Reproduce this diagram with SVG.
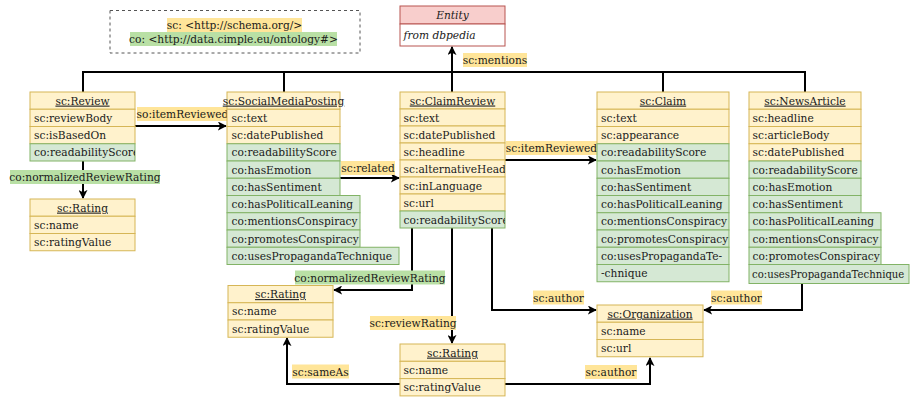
<svg xmlns="http://www.w3.org/2000/svg" width="910" height="401" viewBox="0 0 910 401">
<style>
text{font-family:"DejaVu Serif","Liberation Serif",serif;font-size:10.65px;fill:#1a1a1a}
.y{fill:#fff2cc;stroke:#d6b656;stroke-width:1}
.g{fill:#d5e8d4;stroke:#82b366;stroke-width:1}
.h{text-anchor:middle;text-decoration:underline}
.ly{fill:#ffe599}
.lg{fill:#b9e0a5}
.c path{fill:none;stroke:#000;stroke-width:2}
.i{font-style:italic}
</style>
<defs>
<marker id="a" viewBox="0 0 10 10" refX="9" refY="5" markerWidth="9" markerHeight="9" markerUnits="userSpaceOnUse" orient="auto">
<path d="M0,0 L10,5 L0,10 L2.5,5 z" fill="#000"/>
</marker>
<clipPath id="cRev"><rect x="30" y="92" width="105" height="70"/></clipPath>
<clipPath id="cCR"><rect x="400" y="92" width="105" height="137"/></clipPath>
</defs>

<g id="namespaces">
<rect x="110" y="10.5" width="250" height="42.5" fill="none" stroke="#555" stroke-dasharray="3,3"/>
<rect class="ly" x="167" y="18" width="135" height="14"/>
<text x="234.5" y="29" text-anchor="middle">sc: &lt;http://schema.org/&gt;</text>
<rect class="lg" x="130" y="32" width="207" height="14"/>
<text x="233.5" y="43" text-anchor="middle">co: &lt;http://data.cimple.eu/ontology#&gt;</text>
</g>

<g id="entity">
<rect x="400" y="6" width="105" height="18" fill="#f8cecc" stroke="#b85450"/>
<rect x="400" y="24" width="105" height="22" fill="#fff" stroke="#b85450"/>
<text class="i" x="452.5" y="19" text-anchor="middle">Entity</text>
<text class="i" x="403.5" y="39">from dbpedia</text>
</g>

<g class="c" id="connectors">
<path d="M83 92 V72 H805 V92"/>
<path d="M284 72 V92"/>
<path d="M663 72 V92"/>
<path d="M452 92 V47" marker-end="url(#a)"/>
<path d="M135 126 H226" marker-end="url(#a)"/>
<path d="M83 161 V198" marker-end="url(#a)"/>
<path d="M340 178 H399" marker-end="url(#a)"/>
<path d="M505 160 H596" marker-end="url(#a)"/>
<path d="M412 228 V290 H334" marker-end="url(#a)"/>
<path d="M452 228 V343" marker-end="url(#a)"/>
<path d="M492 228 V310 H596" marker-end="url(#a)"/>
<path d="M802 283 V310 H704" marker-end="url(#a)"/>
<path d="M400 384 H287 V338" marker-end="url(#a)"/>
<path d="M505 384 H650 V358" marker-end="url(#a)"/>
</g>

<g id="edge-labels">
<rect class="ly" x="463" y="53" width="64" height="14"/><text x="495" y="64" text-anchor="middle">sc:mentions</text>
<rect class="ly" x="137" y="107" width="91" height="14"/><text x="182.5" y="118" text-anchor="middle">so:itemReviewed</text>
<rect class="lg" x="10" y="170" width="150" height="14"/><text x="85" y="181" text-anchor="middle">co:normalizedReviewRating</text>
<rect class="ly" x="341" y="161" width="54" height="14"/><text x="368" y="172" text-anchor="middle">sc:related</text>
<rect class="ly" x="506" y="141" width="91" height="14"/><text x="551.5" y="152" text-anchor="middle">sc:itemReviewed</text>
<rect class="lg" x="295" y="270.5" width="150" height="14"/><text x="370" y="281.5" text-anchor="middle">co:normalizedReviewRating</text>
<rect class="ly" x="370" y="316" width="86" height="14"/><text x="413" y="327" text-anchor="middle">sc:reviewRating</text>
<rect class="ly" x="292" y="364.5" width="57" height="14"/><text x="320.5" y="375.5" text-anchor="middle">sc:sameAs</text>
<rect class="ly" x="533" y="290.5" width="51" height="14"/><text x="558.5" y="301.5" text-anchor="middle">sc:author</text>
<rect class="ly" x="711" y="290.5" width="51" height="14"/><text x="736.5" y="301.5" text-anchor="middle">sc:author</text>
<rect class="ly" x="585" y="365" width="52" height="14"/><text x="611" y="376" text-anchor="middle">sc:author</text>
</g>

<g id="review">
<rect class="y" x="30" y="92" width="105" height="17.25"/>
<text class="h" x="82.5" y="104.6">sc:Review</text>
<rect class="y" x="30" y="109.25" width="105" height="17.25"/><text x="34" y="121.9">sc:reviewBody</text>
<rect class="y" x="30" y="126.5" width="105" height="17.25"/><text x="34" y="139.1">sc:isBasedOn</text>
<rect class="g" x="30" y="143.75" width="105" height="17.25"/><text x="34" y="156.4" clip-path="url(#cRev)">co:readabilityScore</text>
</g>

<g id="rating-review">
<rect class="y" x="30" y="199" width="105" height="17.25"/>
<text class="h" x="82.5" y="211.6">sc:Rating</text>
<rect class="y" x="30" y="216.25" width="105" height="17.25"/><text x="34" y="228.9">sc:name</text>
<rect class="y" x="30" y="233.5" width="105" height="17.25"/><text x="34" y="246.1">sc:ratingValue</text>
</g>

<g id="socialmediaposting">
<rect class="y" x="227" y="92" width="113" height="17.25"/>
<text class="h" x="283.5" y="104.6">sc:SocialMediaPosting</text>
<rect class="y" x="227" y="109.25" width="113" height="17.25"/><text x="231.5" y="121.9">sc:text</text>
<rect class="y" x="227" y="126.5" width="113" height="17.25"/><text x="231.5" y="139.1">sc:datePublished</text>
<rect class="g" x="227" y="143.75" width="113" height="17.25"/><text x="231.5" y="156.4">co:readabilityScore</text>
<rect class="g" x="227" y="161" width="113" height="17.25"/><text x="231.5" y="173.6">co:hasEmotion</text>
<rect class="g" x="227" y="178.25" width="113" height="17.25"/><text x="231.5" y="190.9">co:hasSentiment</text>
<rect class="g" x="227" y="195.5" width="133" height="17.25"/><text x="231.5" y="208.1">co:hasPoliticalLeaning</text>
<rect class="g" x="227" y="212.75" width="133" height="17.25"/><text x="231.5" y="225.4">co:mentionsConspiracy</text>
<rect class="g" x="227" y="230" width="133" height="17.25"/><text x="231.5" y="242.6">co:promotesConspiracy</text>
<rect class="g" x="227" y="247.25" width="172" height="17.25"/><text x="231.5" y="259.9">co:usesPropagandaTechnique</text>
</g>

<g id="claimreview">
<rect class="y" x="400" y="92" width="105" height="17"/>
<text class="h" x="452.5" y="104.5">sc:ClaimReview</text>
<rect class="y" x="400" y="109" width="105" height="17"/><text x="403.5" y="121.5">sc:text</text>
<rect class="y" x="400" y="126" width="105" height="17"/><text x="403.5" y="138.5">sc:datePublished</text>
<rect class="y" x="400" y="143" width="105" height="17"/><text x="403.5" y="155.5">sc:headline</text>
<rect class="y" x="400" y="160" width="105" height="17"/><text x="403.5" y="172.5" clip-path="url(#cCR)">sc:alternativeHeadline</text>
<rect class="y" x="400" y="177" width="105" height="17"/><text x="403.5" y="189.5">sc:inLanguage</text>
<rect class="y" x="400" y="194" width="105" height="17"/><text x="403.5" y="206.5">sc:url</text>
<rect class="g" x="400" y="211" width="105" height="17"/><text x="403.5" y="223.5" clip-path="url(#cCR)">co:readabilityScore</text>
</g>

<g id="claim">
<rect class="y" x="597" y="92" width="132" height="17.25"/>
<text class="h" x="663" y="104.6">sc:Claim</text>
<rect class="y" x="597" y="109.25" width="132" height="17.25"/><text x="601" y="121.9">sc:text</text>
<rect class="y" x="597" y="126.5" width="132" height="17.25"/><text x="601" y="139.1">sc:appearance</text>
<rect class="g" x="597" y="143.75" width="132" height="17.25"/><text x="601" y="156.4">co:readabilityScore</text>
<rect class="g" x="597" y="161" width="132" height="17.25"/><text x="601" y="173.6">co:hasEmotion</text>
<rect class="g" x="597" y="178.25" width="132" height="17.25"/><text x="601" y="190.9">co:hasSentiment</text>
<rect class="g" x="597" y="195.5" width="132" height="17.25"/><text x="601" y="208.1">co:hasPoliticalLeaning</text>
<rect class="g" x="597" y="212.75" width="132" height="17.25"/><text x="601" y="225.4">co:mentionsConspiracy</text>
<rect class="g" x="597" y="230" width="132" height="17.25"/><text x="601" y="242.6">co:promotesConspiracy</text>
<rect class="g" x="597" y="247.25" width="132" height="17.25"/><text x="601" y="259.9">co:usesPropagandaTe-</text>
<rect class="g" x="597" y="264.5" width="132" height="17.25"/><text x="601" y="277.1">-chnique</text>
</g>

<g id="newsarticle">
<rect class="y" x="749" y="92" width="112" height="17.25"/>
<text class="h" x="805" y="104.6">sc:NewsArticle</text>
<rect class="y" x="749" y="109.25" width="112" height="17.25"/><text x="752.5" y="121.9">sc:headline</text>
<rect class="y" x="749" y="126.5" width="112" height="17.25"/><text x="752.5" y="139.1">sc:articleBody</text>
<rect class="y" x="749" y="143.75" width="112" height="17.25"/><text x="752.5" y="156.4">sc:datePublished</text>
<rect class="g" x="749" y="161" width="112" height="17.25"/><text x="752.5" y="173.6">co:readabilityScore</text>
<rect class="g" x="749" y="178.25" width="112" height="17.25"/><text x="752.5" y="190.9">co:hasEmotion</text>
<rect class="g" x="749" y="195.5" width="112" height="17.25"/><text x="752.5" y="208.1">co:hasSentiment</text>
<rect class="g" x="749" y="212.75" width="132" height="17.25"/><text x="752.5" y="225.4">co:hasPoliticalLeaning</text>
<rect class="g" x="749" y="230" width="132" height="17.25"/><text x="752.5" y="242.6">co:mentionsConspiracy</text>
<rect class="g" x="749" y="247.25" width="132" height="17.25"/><text x="752.5" y="259.9">co:promotesConspiracy</text>
<rect class="g" x="749" y="264.5" width="160" height="19"/><text x="752" y="278" style="font-size:10.1px">co:usesPropagandaTechnique</text>
</g>

<g id="rating-claimreview-normalized">
<rect class="y" x="228" y="285.5" width="105" height="17.25"/>
<text class="h" x="280.5" y="298.1">sc:Rating</text>
<rect class="y" x="228" y="302.75" width="105" height="17.25"/><text x="232" y="315.4">sc:name</text>
<rect class="y" x="228" y="320" width="105" height="17.25"/><text x="232" y="332.6">sc:ratingValue</text>
</g>

<g id="rating-claimreview">
<rect class="y" x="400" y="344" width="105" height="17.3"/>
<text class="h" x="452.5" y="356.6">sc:Rating</text>
<rect class="y" x="400" y="361.3" width="105" height="17.3"/><text x="403.5" y="373.9">sc:name</text>
<rect class="y" x="400" y="378.6" width="105" height="17.3"/><text x="403.5" y="391.2">sc:ratingValue</text>
</g>

<g id="organization">
<rect class="y" x="597" y="305" width="106" height="17.25"/>
<text class="h" x="650" y="317.6">sc:Organization</text>
<rect class="y" x="597" y="322.25" width="106" height="17.25"/><text x="601" y="334.9">sc:name</text>
<rect class="y" x="597" y="339.5" width="106" height="17.25"/><text x="601" y="352.1">sc:url</text>
</g>
</svg>
